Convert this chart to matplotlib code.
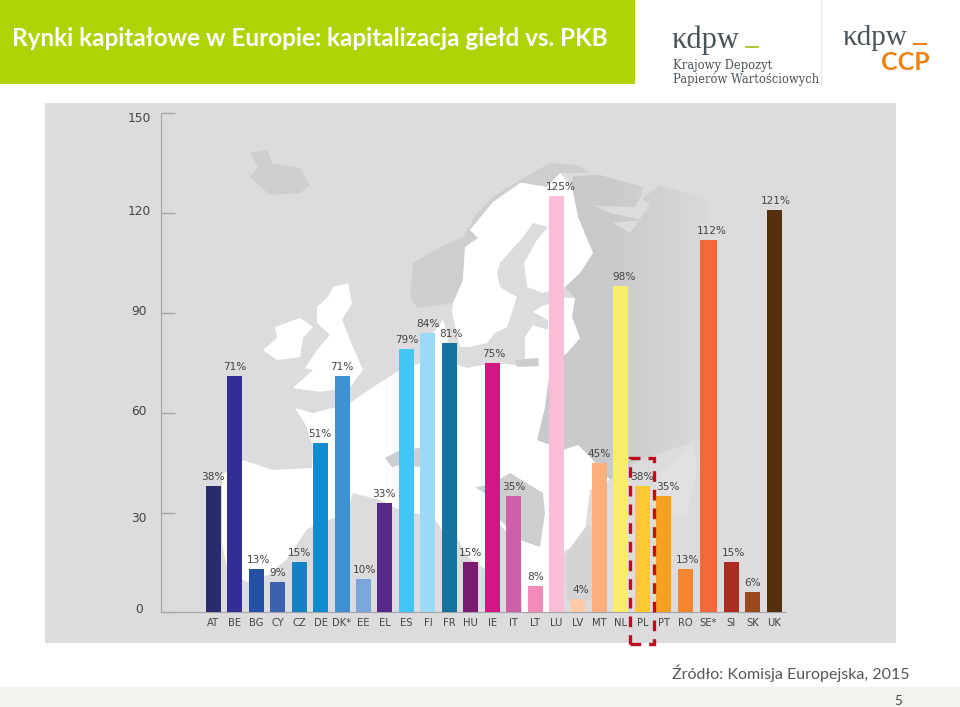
import numpy as np
import matplotlib
matplotlib.use('Agg')
import matplotlib.pyplot as plt
from matplotlib.patches import Polygon, Rectangle

countries = ['AT', 'BE', 'BG', 'CY', 'CZ', 'DE', 'DK*', 'EE', 'EL', 'ES', 'FI', 'FR', 'HU', 'IE',
             'IT', 'LT', 'LU', 'LV', 'MT', 'NL', 'PL', 'PT', 'RO', 'SE*', 'SI', 'SK', 'UK']
values = [38, 71, 13, 9, 15, 51, 71, 10, 33, 79, 84, 81, 15, 75,
          35, 8, 125, 4, 45, 98, 38, 35, 13, 112, 15, 6, 121]
colors = ['#2a2a6e', '#322e96', '#2350a4', '#3a62b0', '#1580c4', '#0f8ccf', '#3f90d0', '#7ba6da',
          '#55298a', '#42c6f5', '#9bd9f7', '#14749e', '#7a1a70', '#d41585', '#cf5fa8', '#f58ab8',
          '#fbbcd8', '#fdcba5', '#fbb07c', '#f9ec6b', '#fec82e', '#f9a024', '#f7862e', '#f4683a',
          '#ad2c22', '#9a4a1e', '#55300e']
y_ticks = [0, 30, 60, 90, 120, 150]

TITLE = 'Rynki kapitałowe w Europie: kapitalizacja giełd vs. PKB'
SOURCE = 'Źródło: Komisja Europejska, 2015'

# backdrop map, traced by hand in figure pixels
uk = [(333, 287), (348, 283), (352, 303), (342, 320), (353, 347), (363, 370), (350, 387), (320, 392),
      (293, 388), (313, 370), (305, 368), (317, 350), (330, 335), (317, 323), (317, 307), (328, 297)]
ireland = [(275, 327), (300, 318), (313, 327), (303, 338), (300, 357), (277, 360), (263, 350), (277, 338)]
iceland = [(250, 153), (267, 150), (272, 163), (300, 168), (310, 185), (300, 193), (270, 195), (250, 177), (258, 167)]
norway = [(410, 297), (413, 263), (440, 247), (463, 237), (477, 213), (493, 197), (520, 180), (550, 163),
          (577, 165), (590, 173), (560, 173), (547, 187), (523, 183), (493, 202), (470, 230), (478, 238),
          (465, 247), (463, 280), (453, 303), (440, 305), (417, 308)]
nordic = [(520, 183), (523, 183), (547, 187), (560, 173), (572, 187), (578, 217), (593, 253), (580, 273),
          (565, 287), (543, 293), (527, 287), (524, 263), (537, 240), (548, 227), (533, 223), (523, 237),
          (500, 263), (497, 273), (500, 287), (517, 297), (507, 327), (495, 333), (487, 343), (470, 347),
          (460, 347), (452, 313), (453, 303), (463, 280), (465, 247), (478, 238), (470, 230), (493, 202)]
mainland = [(295, 408), (313, 413), (333, 408), (350, 403), (373, 387), (400, 370), (420, 363), (433, 360),
            (433, 333), (443, 320), (448, 337), (445, 360), (467, 368), (493, 363), (517, 365), (525, 360),
            (525, 337), (533, 325), (548, 330), (548, 320), (533, 312), (540, 307), (565, 298), (575, 298),
            (572, 317), (580, 338), (567, 353), (550, 368), (545, 407), (537, 440), (563, 450), (578, 445),
            (590, 457), (610, 480), (590, 490), (587, 515), (583, 545), (565, 550), (552, 612), (222, 612),
            (222, 475), (243, 460), (273, 470), (312, 468), (313, 447), (307, 427)]
med_sea = [(222, 545), (228, 572), (247, 582), (268, 575), (287, 559), (307, 529), (317, 525), (347, 513),
           (353, 493), (380, 500), (400, 510), (433, 517), (442, 530), (457, 537), (467, 557), (487, 570),
           (487, 614), (222, 614)]
ionian = [(500, 525), (520, 545), (522, 612), (487, 614), (487, 570), (495, 590)]
swiss = [(385, 458), (400, 450), (420, 448), (420, 467), (400, 465), (392, 467)]
balkans = [(475, 487), (490, 485), (510, 473), (543, 493), (545, 513), (540, 547), (520, 540), (500, 520), (500, 503)]
kaliningrad = [(515, 360), (538, 358), (539, 366), (517, 367)]
east_land = [(572, 187), (578, 217), (593, 253), (580, 273), (565, 287), (575, 298), (572, 317), (580, 338),
             (567, 353), (550, 368), (545, 407), (537, 440), (563, 450), (578, 445), (590, 457), (610, 480),
             (640, 460), (700, 440), (710, 200), (660, 185), (640, 200), (643, 187), (600, 175), (573, 176)]
white_sea = [(593, 205), (610, 213), (643, 220), (613, 223), (630, 233), (650, 205), (640, 197), (635, 207), (600, 206)]
black_sea = [(657, 477), (693, 440), (697, 467), (687, 517), (657, 517)]
turkey_side = [(587, 525), (592, 527), (594, 600), (567, 603), (565, 555)]

fig = plt.figure(figsize=(9.6, 7.07), dpi=100)

ax_bg = fig.add_axes([0, 0, 1, 1])
ax_bg.axis('off')
BG = '#dcdcde'
LAND = '#cdced0'
ax_bg.add_patch(Rectangle((45, 103), 851, 540, fc=BG, ec='none'))

# eastern land fades out into the backdrop
shade = Polygon(east_land, fc='none', ec='none', transform=ax_bg.transData)
ax_bg.add_patch(shade)
ramp = np.clip((720 - np.linspace(520, 720, 200)) / 110, 0, 1)
img = np.ones((2, 200, 4))
img[..., 0] = 0xc8 / 255
img[..., 1] = 0xc9 / 255
img[..., 2] = 0xcb / 255
img[..., 3] = ramp
im = ax_bg.imshow(img, extent=(520, 720, 500, 160), aspect='auto', zorder=1.2)
im.set_clip_path(shade)

for poly, col, z in [(iceland, LAND, 1), (norway, LAND, 1), (uk, 'white', 2), (ireland, 'white', 2),
                     (nordic, 'white', 2), (mainland, 'white', 2), (med_sea, BG, 2.1), (ionian, BG, 2.1),
                     (swiss, LAND, 2.2), (balkans, LAND, 2.2), (kaliningrad, LAND, 2.2),
                     (white_sea, BG, 2.2), (black_sea, '#e0e0e2', 2.2), (turkey_side, '#d4d4d6', 2.2)]:
    ax_bg.add_patch(Polygon(poly, fc=col, ec='none', zorder=z))

# header and footer
ax_bg.add_patch(Rectangle((0, 0), 635, 83.5, fc='#aed306', ec='none'))
ax_bg.add_patch(Rectangle((0, 687), 960, 20, fc='#f5f3ee', ec='none'))
ax_bg.text(12, 38, TITLE, color='white', fontsize=17.5, fontweight='bold', family='Lato', va='center')
ax_bg.text(672, 673, SOURCE, color='#555555', fontsize=11.5, family='Lato', va='center')
ax_bg.text(898, 701, '5', color='#444444', fontsize=9.5, family='Lato', va='center', ha='center')

# logos
logo_grey = '#4a5358'
ax_bg.text(671, 40, 'κdpw', color=logo_grey, fontsize=22, family='Liberation Serif', va='center')
ax_bg.add_patch(Rectangle((745, 46), 14, 2, fc='#a8c832', ec='none'))
ax_bg.text(673, 65, 'Krajowy Depozyt', color=logo_grey, fontsize=8.3, family='DejaVu Serif', va='center')
ax_bg.text(673, 79, 'Papierów Wartościowych', color=logo_grey, fontsize=8.3, family='DejaVu Serif', va='center')
ax_bg.plot([821, 821], [0, 85], color='#e8e8e8', lw=1)
ax_bg.text(842, 38, 'κdpw', color=logo_grey, fontsize=21, family='Liberation Serif', va='center')
ax_bg.add_patch(Rectangle((913, 43), 14, 2, fc='#f08010', ec='none'))
ax_bg.text(881, 62, 'CCP', color='#f08010', fontsize=18, fontweight='bold', family='Lato', va='center')

ax_bg.set_xlim(0, 960)
ax_bg.set_ylim(707, 0)

# chart
ax = fig.add_axes([161 / 960, (707 - 612.4) / 707, 624 / 960, 499.4 / 707])
ax.patch.set_alpha(0)
x = np.arange(len(countries), dtype=float)
x[23:] += [0.07, 0.14, 0.14, 0.14]
widths = [0.8 if c == 'SE*' else 0.7 for c in countries]
ax.bar(x, values, width=widths, color=colors, zorder=3)

ax.set_xlim(-2.438, 26.65)
ax.set_ylim(0, 150)
ax.set_xticks(x, countries)
ax.set_yticks(y_ticks, [])
for s in ['top', 'right']:
    ax.spines[s].set_visible(False)
for s in ['left', 'bottom']:
    ax.spines[s].set_color('#a4a4a6')
ax.tick_params(axis='x', length=0, pad=4, labelsize=7.2, labelcolor='#444444')
ax.tick_params(axis='y', direction='in', length=10, color='#a4a4a6', width=1)

label_dx = [0, 0, 2, 0, 0, -1, 0, 1, -1, 0, 0, 2, 0, 2, 0, 1, 4, 3, 0, 3, 0, 4, 2, 4, 2, 0, 2]
for xi, v, dx in zip(x, values, label_dx):
    ax.annotate(f'{v}%', xy=(xi, v), xytext=(dx, 9), textcoords='offset pixels', ha='center', va='center',
                fontsize=7.6, color='#444444', zorder=5)

# the y labels sit unevenly next to their ticks in the original
y_label_dy = {0: 3, 30: -6, 60: 1, 90: 1, 120: 1, 150: -6}
for v in y_ticks:
    ax.annotate(str(v), xy=(0, v), xycoords=ax.get_yaxis_transform(), xytext=(-22, y_label_dy[v]),
                textcoords='offset pixels', ha='center', va='center', fontsize=8.8, color='#444444')

ax.add_patch(Rectangle((20 - 0.56, -9.4), 1.12, 55.8, fill=False, ec='#c00d1e', lw=2.4,
                       linestyle=(0, (3.2, 2.4)), clip_on=False, zorder=6))

fig.savefig('out.png', dpi=100)
